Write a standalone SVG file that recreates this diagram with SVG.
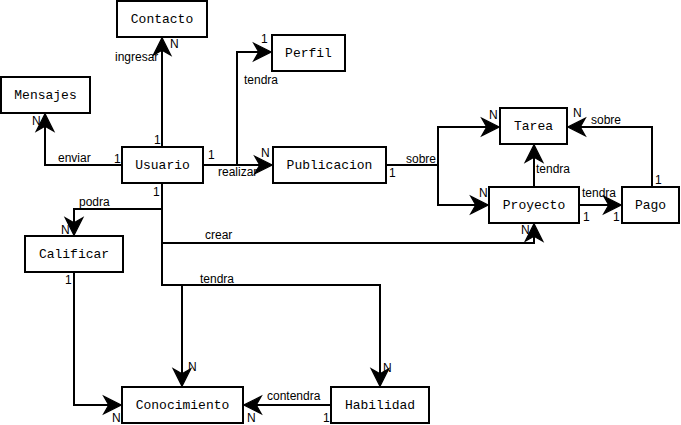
<svg xmlns="http://www.w3.org/2000/svg" width="681" height="425" viewBox="0 0 681 425">
<defs>
<style>
.box{fill:#fff;stroke:#000;stroke-width:2}
.nt{font-family:"Liberation Mono","Courier New",monospace;font-size:13px;fill:#000;text-anchor:middle}
.ln{fill:none;stroke:#000;stroke-width:2}
.lb{font-family:"Liberation Sans",Arial,sans-serif;font-size:12px;fill:#000}
</style>
<marker id="arr" markerUnits="userSpaceOnUse" markerWidth="20" markerHeight="20" viewBox="-14 -8 16 16" refX="0" refY="0" orient="auto" overflow="visible">
<path d="M1,0 L-13,-7 L-9,0 L-13,7 Z" fill="#000" stroke="#000" stroke-width="1"/>
</marker>
</defs>
<rect width="681" height="425" fill="#fff"/>
<g id="connectors">
<path class="ln" marker-end="url(#arr)" d="M162,147 V39"/>
<path class="ln" marker-end="url(#arr)" d="M122,165 H45 V115"/>
<path class="ln" marker-end="url(#arr)" d="M203,165 H271"/>
<path class="ln" marker-end="url(#arr)" d="M237,165 V52 H270"/>
<path class="ln" marker-end="url(#arr)" d="M386,165 H438 V127 H498"/>
<path class="ln" marker-end="url(#arr)" d="M438,165 V205 H487"/>
<path class="ln" marker-end="url(#arr)" d="M534,187 V146"/>
<path class="ln" marker-end="url(#arr)" d="M579,205 H620"/>
<path class="ln" marker-end="url(#arr)" d="M652,187 V127 H569"/>
<path class="ln" marker-end="url(#arr)" d="M162,183 V285 H380 V385"/>
<path class="ln" marker-end="url(#arr)" d="M182,285 V385"/>
<path class="ln" marker-end="url(#arr)" d="M162,209 H74 V234"/>
<path class="ln" marker-end="url(#arr)" d="M162,243 H534 V225"/>
<path class="ln" marker-end="url(#arr)" d="M74,272 V405 H120"/>
<path class="ln" marker-end="url(#arr)" d="M331,405 H245"/>
</g>
<g id="labels">
<text class="lb" x="115" y="61">ingresar</text>
<text class="lb" x="170" y="48">N</text>
<text class="lb" x="261" y="43">1</text>
<text class="lb" x="244" y="84">tendra</text>
<text class="lb" x="32" y="125">N</text>
<text class="lb" x="58" y="162">enviar</text>
<text class="lb" x="114" y="163">1</text>
<text class="lb" x="154" y="144">1</text>
<text class="lb" x="208" y="159">1</text>
<text class="lb" x="218" y="176">realizar</text>
<text class="lb" x="261" y="157">N</text>
<text class="lb" x="153" y="196">1</text>
<text class="lb" x="79" y="206">podra</text>
<text class="lb" x="61" y="234">N</text>
<text class="lb" x="205" y="239">crear</text>
<text class="lb" x="200" y="283">tendra</text>
<text class="lb" x="65" y="284">1</text>
<text class="lb" x="188" y="371">N</text>
<text class="lb" x="383" y="372">N</text>
<text class="lb" x="112" y="422">N</text>
<text class="lb" x="247" y="422">N</text>
<text class="lb" x="267" y="400">contendra</text>
<text class="lb" x="323" y="422">1</text>
<text class="lb" x="406" y="163">sobre</text>
<text class="lb" x="389" y="177">1</text>
<text class="lb" x="489" y="119">N</text>
<text class="lb" x="573" y="117">N</text>
<text class="lb" x="591" y="124">sobre</text>
<text class="lb" x="536" y="173">tendra</text>
<text class="lb" x="479" y="197">N</text>
<text class="lb" x="582" y="197">tendra</text>
<text class="lb" x="583" y="221">1</text>
<text class="lb" x="613" y="221">1</text>
<text class="lb" x="655" y="184">1</text>
<text class="lb" x="521" y="234">N</text>
</g>
<g id="contacto"><rect class="box" x="117" y="1" width="90" height="36"/><text class="nt" x="162" y="23">Contacto</text></g>
<g id="perfil"><rect class="box" x="272" y="35" width="73" height="36"/><text class="nt" x="308.5" y="57">Perfil</text></g>
<g id="mensajes"><rect class="box" x="1" y="77" width="89" height="36"/><text class="nt" x="45.5" y="99">Mensajes</text></g>
<g id="usuario"><rect class="box" x="122" y="147" width="81" height="36"/><text class="nt" x="162.5" y="169">Usuario</text></g>
<g id="publicacion"><rect class="box" x="273" y="147" width="113" height="36"/><text class="nt" x="329.5" y="169">Publicacion</text></g>
<g id="tarea"><rect class="box" x="500" y="108" width="67" height="36"/><text class="nt" x="533.5" y="130">Tarea</text></g>
<g id="proyecto"><rect class="box" x="489" y="187" width="90" height="36"/><text class="nt" x="534" y="209">Proyecto</text></g>
<g id="pago"><rect class="box" x="622" y="187" width="57" height="36"/><text class="nt" x="650.5" y="209">Pago</text></g>
<g id="calificar"><rect class="box" x="25" y="236" width="98" height="36"/><text class="nt" x="74" y="258">Calificar</text></g>
<g id="conocimiento"><rect class="box" x="122" y="387" width="121" height="36"/><text class="nt" x="182.5" y="409">Conocimiento</text></g>
<g id="habilidad"><rect class="box" x="331" y="387" width="98" height="36"/><text class="nt" x="380" y="409">Habilidad</text></g>
</svg>
